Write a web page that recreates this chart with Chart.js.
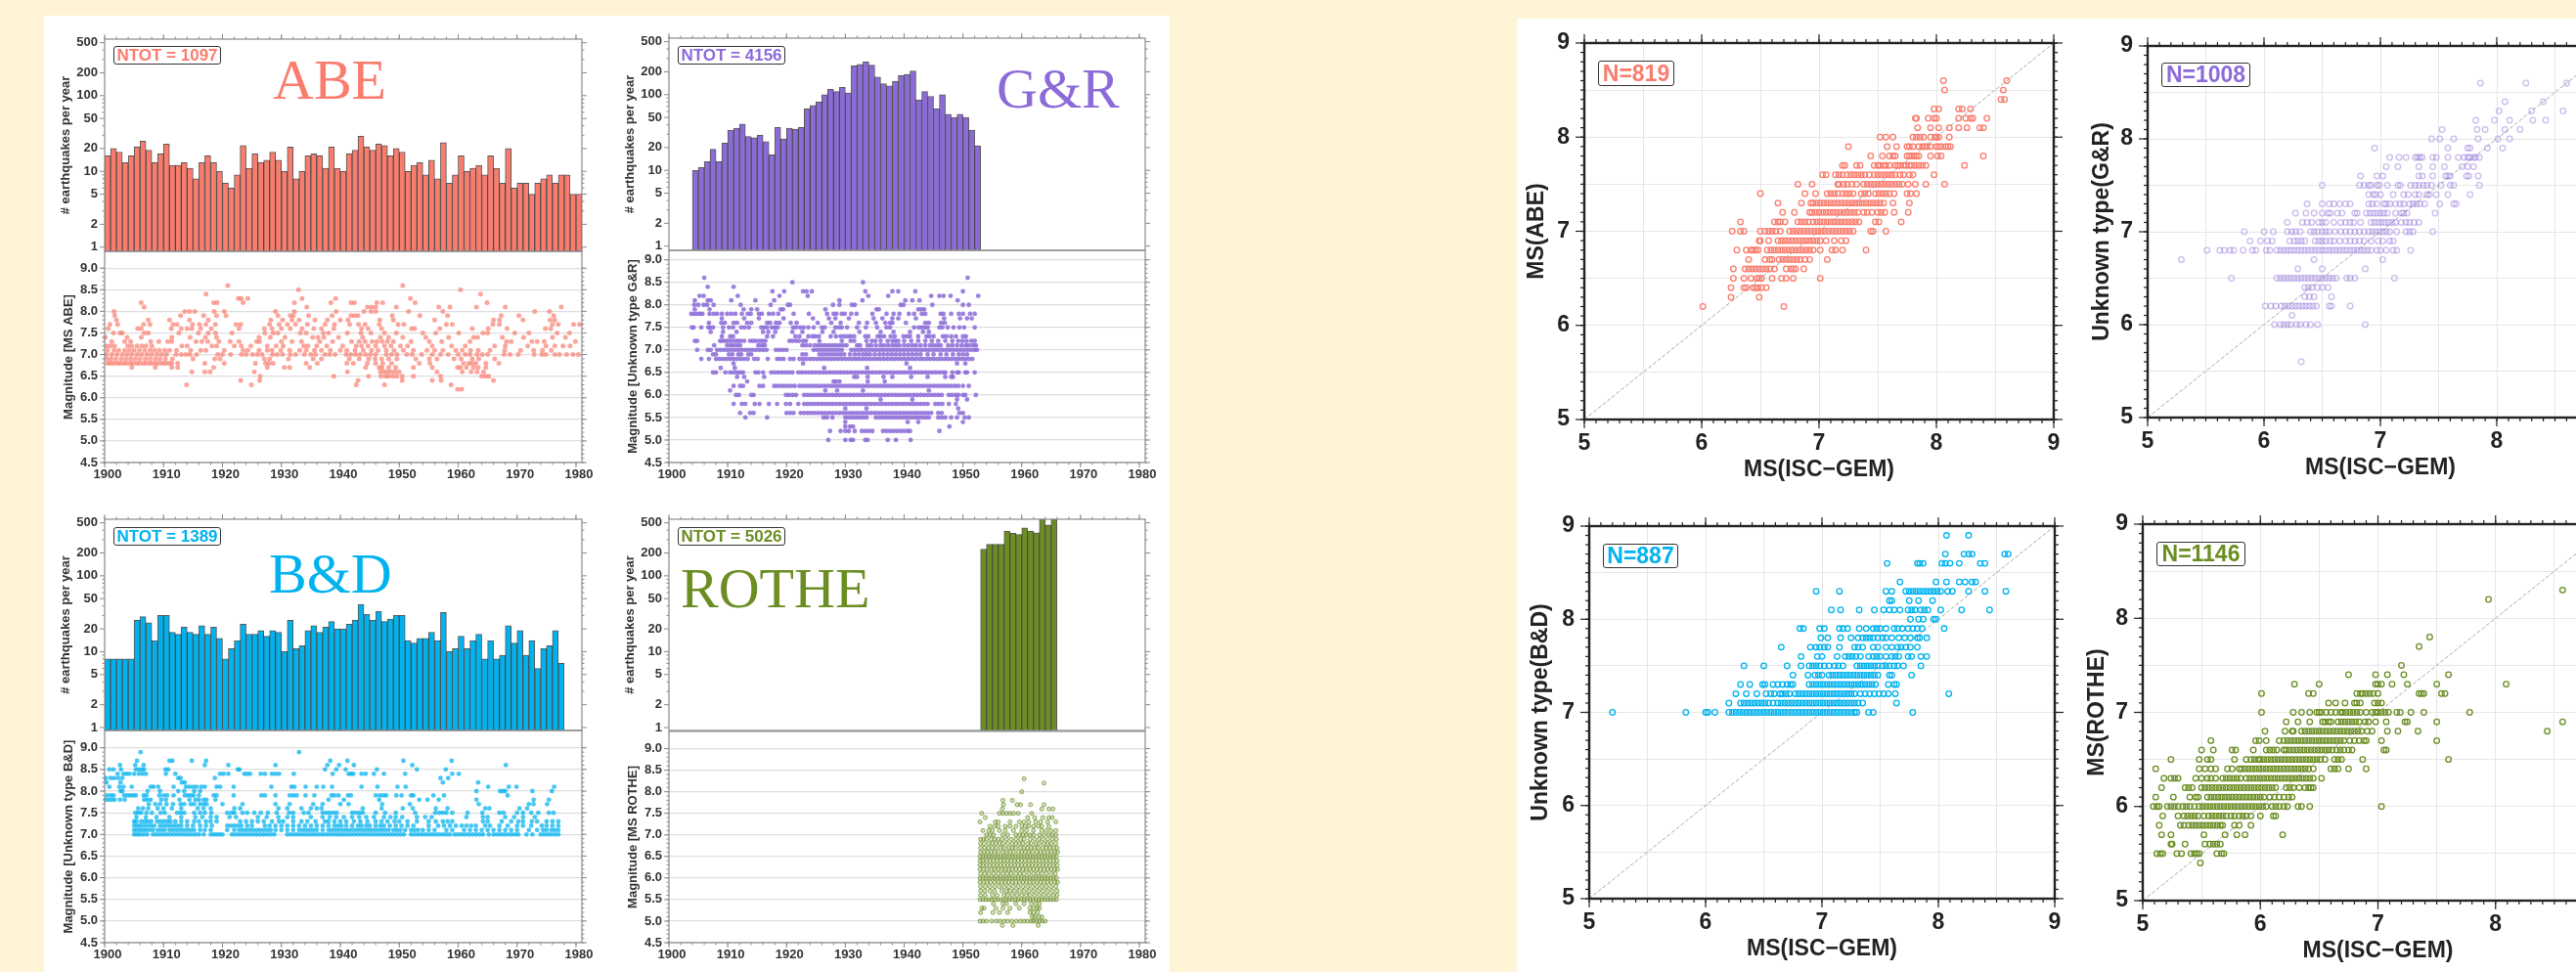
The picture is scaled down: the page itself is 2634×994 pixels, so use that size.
<!DOCTYPE html>
<html>
<head>
<meta charset="utf-8">
<script src="https://cdn.jsdelivr.net/npm/chart.js@4"></script>
<style>
html, body { margin: 0; padding: 0; }
#stage { position: relative; width: 2634px; height: 994px; overflow: hidden; background: #fff5d6; }
#stage canvas { position: absolute; }
.sheet { position: absolute; background: #fff; }
.tag { position: absolute; box-sizing: border-box; background: #fff; border: 1.5px solid #333; border-radius: 3px;
       display: flex; align-items: center; justify-content: center; font-family: "Liberation Sans"; white-space: nowrap; }
.big { position: absolute; font-family: "Liberation Serif"; font-size: 58px; line-height: 58px; white-space: nowrap; z-index: 3; }
</style>
</head>
<body>
<div id="stage">
  <div class="sheet" style="left:45px;top:16px;width:1151px;height:978px"></div>
  <div class="sheet" style="left:1551px;top:19px;width:1083px;height:975px"></div>
</div>
<script>
// yearly counts
const abeFirstYear = 1900;
const abeCounts = [16,20,18,13,16,21,25,19,13,17,23,12,12,13,11,8,13,16,13,10,7,6,9,22,11,17,13,14,18,14,10,21,8,10,16,17,16,11,21,11,10,17,19,29,21,19,23,22,16,20,18,10,12,13,9,14,8,24,7,9,16,10,11,12,9,16,11,7,20,6,7,7,5,7,8,9,7,9,9,5,5];
const grFirstYear = 1904;
const grCounts = [10,11,13,19,13,23,34,36,41,28,27,29,24,16,37,26,36,35,37,65,72,80,100,118,110,125,105,240,250,270,245,170,140,130,150,180,185,205,85,110,95,65,100,55,50,55,50,34,21];
const bdFirstYear = 1900;
const bdCounts = [8,8,8,8,8,26,29,24,14,30,30,18,17,21,18,17,22,17,21,15,8,11,14,23,17,17,19,16,19,18,10,26,11,12,19,22,18,21,25,20,20,23,26,42,31,26,34,25,27,30,30,14,13,15,15,18,14,33,10,11,16,11,14,17,8,14,8,9,22,13,19,9,14,6,11,12,19,7];
const rotheFirstYear = 1953;
const rotheCounts = [225,260,260,260,390,365,350,430,390,370,560,470,560];

// magnitude vs time: each row is [magnitude, years after 1900...]
const abeTimeRows = [
[8.6,20.9,50.6],[8.5,32.9,60.4],[8.4,17.2,63.8],
[8.3,22.7,23.2,24.3,33.5,39.2,51.9],
[8.2,6.2,18.5,19.1,23.5,32.2,38.4,41.8,42.4,46.2,47.2,52.7,64.9],
[8.1,6.7,34.3,44.6,45.3,46,49.5,56.7,58.6,63.1,68,77.5],
[8,1.6,13.6,14.4,15.3,18.6,20.3,29,32.2,39.3,44,45.2,46,51.6,57.4,73,75.5],
[7.9,1.7,12.9,16.8,19,20.6,29.4,31.5,32,34.6,38.6,41.8,42.4,43,48.8,53.5,58.2,67.3,70.3,76.2],
[7.8,2,7.4,11,14.4,17.6,28.2,30.2,31.8,33,35.7,37.8,40,41.3,46.7,49,56,66,67,71,75.6,76.4],
[7.7,0.9,2.2,6.6,7.7,11.6,12.3,14.9,16.1,17.2,18.8,22.3,23.1,28,29.6,31,32.4,34.4,37.4,39,41.6,43.1,44.2,46.6,49.8,50.8,58,59,65.9,67,76,77,79.6,80.6],
[7.6,0.6,5.6,6.2,11.3,13,14,14.8,16.3,18.1,22.8,27.1,28.4,30,31.5,33.5,35.5,36.8,38.9,43.6,44.7,47,52.1,52.6,56.9,62.4,65.1,68.3,74.8,75.7],
[7.5,1.5,2.6,3,6.7,7.4,12.6,15.9,17.6,18.8,21.6,27.2,28.6,29.4,33.2,34.2,37.1,38,41.2,43.5,45.2,47.5,49.5,54,56.2,60.1,64.2,65,69.6,72,76.8,78.9],
[7.4,0.1,3.8,6.2,11.4,14.5,17.1,19,26.2,28.1,30.6,35.3,36.2,37.2,39.7,43.8,46.8,48.2,50.6,54.5,58.4,62.6,63.3,67.5,71.1,76,78.2],
[7.3,1.2,3.4,4.4,7.8,9.2,10.7,11.4,15.5,16.5,17.5,19.4,21.3,22.8,25.8,26.3,30,31.8,33.4,36.5,38.7,41.9,43.2,44.2,45.4,46.2,47.1,48,49,52,55.1,57.2,62,68.2,69,72.5,73.4,74.6,79.9],
[7.2,0.3,1,1.7,3.9,4.6,5.5,6.3,7,8,13.1,14,18.2,19,22,23.2,24.8,27.6,29.1,30.3,33.8,34.5,36,37.7,40.4,42.7,43.6,44.7,46,47.5,48.6,50.2,51.4,55.6,58.9,61.2,66.2,68,71.8,74.9,76.4,77.8,79],
[7.1,0.5,1.6,2.4,3.4,4.2,5,5.9,6.8,7.7,8.5,9.3,10.2,11,12.2,14.6,16.3,17.2,20.3,23.5,24.3,26.2,27.6,28.4,29.9,31.4,33.1,34.2,35.6,36.8,38.3,40,41.1,42.5,43.9,45.3,46.4,47.8,49.1,50.7,52.4,54.7,56,57.4,59.6,60.7,62.1,63.4,65.4,67.9,70.6,72.8,74.3,75.8],
[7,0.3,1.2,2.1,3,3.8,4.6,5.5,6.3,7.2,8,8.9,9.7,10.5,12.1,13,13.8,14.5,15.6,19.2,20,21.4,23.2,24,25.1,25.9,26.7,28.5,29.3,30.2,31.5,32.4,33.9,35,35.8,37.4,38.2,39.1,41,41.8,42.6,43.4,44.3,45.1,46,47.8,48.7,49.6,51.3,52.2,53.8,55.6,57,58.3,60,61.2,62,63.2,64.1,65,67.8,68.8,70.2,72.9,74.2,74.9,76.4,77.2,78.4,79.5,80.4],
[6.9,0.4,1.1,1.9,2.8,3.6,4.4,5.2,6,6.9,7.7,8.6,9.4,10.3,11.5,15,18.7,19.6,27.1,28,31.2,35.4,36.8,41.5,43.2,44.8,45.9,47,48.2,49.6,52.8,55.1,56.4,59.3,60.5,62.4,63.5,66.2],
[6.8,0.5,1,1.5,2.1,2.6,3.2,3.7,4.3,4.8,5.4,5.9,6.5,7,7.6,8.1,8.7,9.2,9.8,10.3,10.9,11.4,12.4,17,20.3,25.6,27.3,27.9,28.6,34.2,36.1,41.1,42.2,44.6,46,47.2,48.7,53.4,55.2,60.9,61.8,62.3,63,64.7,66.9],
[6.7,4.6,8.6,11.4,12.4,18.5,27.6,30.5,31.4,34.8,44.3,46.6,47.1,48.2,49.4,52.4,55.6,59.9,60.4,61.4,62.6,63.4,64.7],
[6.6,14.8,17,17.9,25.4,41.2,46.8,47.4,48,48.6,49.3,50,56.4,60.7,62.2,63.2,64.3],
[6.5,26.4,38.9,44.8,46.9,47.7,48.2,48.9,49.6,50.5,52.4,57,64,64.6,65.2],
[6.4,23.1,26.3,43,50.5,55.6,57.1,66],[6.3,13.9,24.9,42.7,47.5,58.8],[6.2,59.9,60.6]
];
const grTimeRows = [
[8.6,6,50.8],[8.5,21,33],[8.4,6.6,11],
[8.3,17.6,19.6,22.8,23.4,24.3,33.4,38,39,41.9,50],
[8.2,5.2,5.9,11.7,18.8,23.6,33.9,37.3,44.6,46,46.7,47.9,52.6],
[8.1,4.4,6.6,7.1,10.6,14.7,17.9,29,32.9,40.2,41.4,42.6,49.1],
[8,4.3,5,5.9,6.5,7.6,12.2,17.3,20.2,20.6,27.9,29,31.1,31.6,39.4,39.9,44.8,50,51],
[7.9,4.4,6.9,12.7,14,15,19,19.4,26.6,35.3,35.7,42.4,42.9,43.4],
[7.8,3.8,4.3,4.8,5.3,5.7,6.9,7.6,8.2,9,9.9,10.6,11.3,12.4,13.4,13.9,15.3,15.8,17,17.7,18.6,21.2,23.8,26.9,28,28.5,29.4,29.9,31,31.9,34.6,37,38.2,39.2,40.8,41.7,43,43.6,46.2,46.7,48,49.3,50,51.2,52],
[7.7,9,12.8,15.3,19.5,24.5,27.2,28.3,30.6,34.8,36.3,38,39,42,46.8,49.5,50.7,51.5],
[7.6,6.8,8.9,9.5,11,11.6,13.3,14,16.7,17.2,18.2,18.8,20.7,21.7,25.3,27.6,29.2,32.3,33.7,35.2,36.8,37.6,38,40.3,43.6,44.2,46.3,46.9],
[7.5,3.9,4.2,5.5,6.7,7,7.5,9.2,10.2,10.9,12.3,12.9,13.6,15.7,16.2,16.7,17.5,18,18.5,21.1,21.6,22.3,22.9,23.7,24.6,26,26.5,28.3,28.9,29.4,30.3,32,33.5,35.4,37,37.6,41.7,42.5,43,43.5,44,46,46.5,47.4,48.4,49.4,50.2,52],
[7.4,7.1,9.2,11.5,16,16.9,18.1,21,22.7,26.1,28,32.4,36,38.2,41,43.2,44.2],
[7.3,9,10.4,10.9,16.7,17.7,21.5,22.2,23.7,24.4,24.9,25.5,27.5,28.4,29.2,29.8,30.4,30.9,31.5,33.4,33.9,35.5,36,36.6,37.7,38.4,39.9,40.5,41,42.4,43.8,44.3,45,46.6,47.2,48,48.8,50,50.5],
[7.2,4.4,4.8,8.7,9.1,9.6,10.1,10.6,11.2,11.7,12.2,12.8,13.8,14.3,14.8,15.4,15.9,16.4,20.5,21,21.6,22.1,22.8,23.3,25.6,29.4,30.9,31.5,33.6,34.5,35.1,36,37.2,38,38.5,39,40,41.2,42.4,43.6,44.7,45.8,47,48.2,49.2,49.9,50.6,51.4,52],
[7.1,7.7,9.9,10.5,11,11.6,12.1,15.2,15.8,16.3,22.7,23.3,24,24.8,25.4,26,26.6,27.2,27.8,28.4,29,29.6,30.2,32,32.5,33.8,34.4,35.2,36,36.6,37.3,38,38.6,39.2,40,40.7,41.4,42,42.8,43.6,44.4,45,45.6,46.2,47.5,48.2,49,49.8,50.5,51,51.7,52.2],
[7,4.8,6.6,7.1,8.2,8.8,9.4,10,10.6,11.2,11.8,12.4,13,13.6,14.2,14.8,15.4,16,16.6,18.2,18.8,19.4,20,24.6,25.2,25.8,26.4,27,27.6,28.2,28.8,29.4,31,31.6,32.2,32.8,33.4,34,34.6,35.2,35.8,36.4,37,37.6,38.2,38.8,39.4,40,40.6,41.2,41.8,42.4,43,43.6,44.2,44.8,45.4,46,46.6,47.2,47.8,48.4,49,49.6,50.2,50.8,51.4,52,52.4],
[6.9,7.5,8,10.2,10.8,11.8,12.3,13.5,14,22.7,23.3,25.6,26.2,26.8,27.4,28,28.6,29.2,29.8,30.8,31.6,32.3,33,33.6,34.2,35,35.8,36.5,37.2,37.9,38.6,39.3,40,40.7,41.4,42.1,42.8,44,45,46.2,47.2,48.3,49.3,50,50.7],
[6.8,5.5,6.8,8,8.6,9.2,9.8,10.4,11,11.6,12.2,12.8,13.4,14.5,15.1,16.8,18.4,18.9,19.5,20.6,21.2,22.2,22.8,23.4,24,24.6,25.2,25.8,26.4,27,27.6,28.2,28.8,29.4,30,30.6,31.2,31.8,32.4,33,33.6,34.2,34.8,35.4,36,36.6,37.2,37.8,38.4,39,39.6,40.2,40.8,41.4,42,42.6,43.2,43.8,44.4,45,45.6,46.2,46.8,47.4,48,48.6,49.2,49.8,50.4,51,51.6],
[6.7,11,22.8,40.4,49,50.4],[6.6,8.8,11.2,26.4,33.7,41],
[6.5,7.5,8,9.6,10.4,11,11.6,12.1,12.6,14.7,15.2,16,17.4,18,18.6,19.2,19.8,20.4,21,22,22.6,23.2,23.8,24.4,25,25.6,26.2,26.8,27.4,28,28.6,29.2,29.8,30.4,31,31.6,32.2,32.8,33.4,34,34.6,35.2,35.8,36.4,37,37.6,38.2,38.8,39.4,40,40.6,41.2,41.8,42.4,43,43.6,44.2,44.8,45.4,46,46.6,47,48.2,49,49.3,50.4,50.7,52],
[6.4,11.6,12.8,16.2,31.5,32,33.8,36.5,38,41.2,44,47,48,48.3],
[6.3,13.3,28,28.4,29,33.8,36.7],
[6.2,11,12.1,12.6,15.4,16,17.9,18.4,19,19.6,20.2,20.8,21.4,22.2,22.8,23.4,24,24.6,25.2,25.8,26.4,27,27.6,28.2,28.8,29.4,30,30.6,31.2,31.8,32.4,33,33.6,34.2,34.8,35.4,36,36.6,37.2,37.8,38.4,39,39.6,40.2,40.8,41.4,42,42.6,43.2,43.8,44.4,45,45.6,46.2,46.8,47.4,48,48.6,49.2,50,51],
[6.1,10.4,26.6,28.6,33,44.2],
[6,11.4,11.9,14,14.4,19.9,20.4,21,21.6,23,23.6,24.2,24.8,25.4,26,26.6,27.2,27.8,28.4,29,29.6,30.2,30.8,31.4,32,32.6,33.2,33.8,34.4,35,35.6,36.2,36.8,37.4,38,38.6,39.2,39.8,40.4,41,41.6,42.2,42.8,43.4,44,44.6,45.2,45.8,46.4,47.6,48.2,48.8,49.2,50,50.4,52.2],
[5.9,36,41.4,49,50.7],
[5.8,11,12.4,13,14.6,15.4,17,18.4,19.9,20.6,22,23,23.6,24.2,24.8,25.4,26,26.6,27.2,27.8,28.4,29,29.6,30.2,30.8,31.4,32,32.6,33.2,33.8,34.4,35,35.6,36.2,36.8,37.4,38,38.6,39.2,39.8,40.4,41,41.6,42.2,42.8,43.4,44,45.3,45.9,46.5,47.6,48.8],
[5.7,30,33.6,49.2],
[5.6,12.1,13.8,14.4,20,20.6,21.2,22.4,23,23.6,24.2,24.8,25.4,26,26.6,27.2,27.8,28.4,29,29.6,30.2,30.8,31.4,32,32.6,33.2,33.8,34.4,35,35.6,36.2,36.8,37.4,38,38.6,39.2,39.8,40.4,41,41.6,42.2,42.8,43.4,44,44.6,45.8,46.4,49.4,50],
[5.5,13,16.7,26.3,26.9,27.8,30,30.6,31.2,31.8,32.4,33,33.6,35.2,35.8,36.4,37,37.6,38.2,38.8,39.4,40,40.6,41.2,41.8,42.4,43,43.6,44.2,45.8,46.4,47,48,49,50.3,51],
[5.4,30,40.6,42.4,50],[5.3,30,30.8,31.3,47.7],
[5.2,27.4,29.2,30,30.6,31.6,32.8,33.4,34,34.6,36.4,37,37.6,38.2,38.8,39.4,40,40.6,41,46],
[5,27.1,30,30.9,31.3,33.4,33.8,37.2,38.6,41.1]
];
const bdTimeRows = [
[8.9,6.1,33],[8.7,5.5,11,11.5,14.8,17.2,38.3,41.2,50.7,58.9],
[8.6,2.6,5.2,6.6,17,21,29,37.8,39.8,42.3,52.2,68.1],
[8.5,0.8,1.5,2.8,5.3,5.8,6.3,6.7,10.3,10.8,22.6,22.9,37.4,39.3,40.9,46.2,53,57.9],
[8.4,2.2,3.2,3.7,4.2,5,5.8,6.4,7,10.4,12,19.6,20.2,21,23.7,24.2,24.7,26.5,27.2,28.4,29,29.6,32.1,38.7,41.4,41.8,42.2,43.6,44.3,45.7,47.4,51,60.1,59],
[8.3,0.2,1,1.6,2.3,3,12.5,12.9,18.7,57,58.3],[8.2,0.3,2.7,13.1,13.6,57.4,63.4],
[8.1,0.8,2.5,3.2,4.6,7.8,8.3,9.1,11.7,13.8,14.4,15,15.6,16.4,17,19,19.6,21.9,28.3,31.7,32.2,34.1,36,37.1,38.6,43.6,46.3,49.7,51.1,65.1,68.6,69.9,76.3],
[8,2.7,3,7.3,9.4,12.5,13.5,15.2,16.2,63.1,67.1,67.6,68,72.6,75.9],
[7.9,0.4,1,1.5,3.3,3.8,4.3,4.8,5.3,6.6,7.1,9.3,10,10.6,11.7,13.6,14.1,14.6,15.1,16,18.5,19,21.9,26.6,27.2,29,31.4,32,32.6,34.1,35.6,38.5,39,39.7,41.3,41.8,46,46.7,47.3,47.8,49.5,50.4,52,52.4,55.8,57.6,68.4],
[7.8,0.2,0.7,1.2,1.7,2.6,3.4,6.7,7.2,7.8,9.6,10.4,12.7,14.4,15.4,16,16.8,17.3,18.8,38,40.6,46.6,53.4,54.8,56.7,63.1,72.8,75.4],
[7.7,7.5,8.6,9.4,10.5,11.6,12.9,13.5,14.6,15.2,16.2,16.8,17.3,20,23.4,29,31.4,35.4,37,40,41.4,47.1,51.8,63.5,72,72.8,75.1],
[7.6,5.7,6.5,7.4,9,10,11.4,13,15.8,16.8,18,22,23,29.5,31,33.4,35,36,36.8,43.8,47,50.6,52.3,56.2,58.2,64.6,65.3,70.4,71.7],
[7.5,5.2,5.7,6.2,7.1,8,9.5,10.2,12.3,12.9,13.5,15.2,16.2,17,18.1,20.8,21.5,22,23.4,24.2,25.4,26.5,27.7,29.2,31.3,32,33.8,34.6,37,37.6,38.2,38.8,39.4,42,42.6,43.2,43.8,46,47.6,49.4,52.7,56.1,56.8,57.4,58,59,61.6,64.1,67,67.7,70,71,72.4,73.6,75.4,76.2],
[7.4,5.4,7,8.8,11,13,15.4,16.6,18,19,21.2,22.3,26,27.5,29.5,31,32,35,37,38.2,39.3,40.6,42,43.2,44.4,45.7,47.4,48.5,49.4,50.5,53,54.4,55.5,61.4,64.2,65,68,69.5,71,73],
[7.3,5,5.4,6.2,6.8,7.3,7.9,8.9,9.5,10.1,10.7,11.2,12,13,14,15.2,16,17.2,18,19,23,24,25,26,27,28.4,29.6,30.3,32,33.4,34.4,35.8,37.4,38,39,40,41,42.3,43.4,44.6,46,47,48,49.2,50,51.4,53,55,56.2,57.4,58.2,59,64.2,65,67.4,69,70.2,71,72.5,73.4,75,76,77],
[7.2,5,5.5,6,6.6,7.2,7.8,8.4,9.4,10,10.6,11.2,11.8,12.4,13,14,15,16.2,17.2,18.2,20.8,21.4,22,22.6,23.2,24.2,25,27.2,28,29,30,31,32,33,34,35,36,37,38,39,39.6,40.2,41,42,43,43.6,44.4,45,46,46.8,47.4,48.4,49.4,50.4,51.4,52.4,55,56.6,57.6,58.6,59.6,60.6,61.4,62.2,63,64.6,65.4,67,68.4,70,71,72.4,74.2,75,76,77],
[7.1,5,5.5,6,6.5,7,7.6,8.2,9,9.6,10.2,11,11.6,12.2,12.8,13.4,14,14.6,15.2,16.2,17,18,20.8,22,22.8,23.4,24,24.6,25.2,25.8,26.4,27,27.6,28.2,29,30,31,32,33,33.6,34.2,34.8,35.4,36,37,38,38.6,39.2,39.8,40.4,41,41.6,42.2,42.8,43.4,44,44.6,45.2,45.8,46.4,47,47.6,48.2,49,49.6,50.2,51,52,52.6,53.2,54,55,56,58,59,61,62,63,64,65,66,67,68,69,70,72,73.4,74.4,75,75.8,76.4,77],
[7,5,5.5,6,6.6,7.2,8.2,8.8,9.4,10,10.6,11.2,11.8,12.4,13,13.6,14.2,14.8,15.4,16,16.8,18,18.5,19,19.5,20,21.6,22.2,22.8,23.4,24,24.6,25.2,25.8,26.4,27,27.6,28.2,28.8,31,31.6,32.2,32.8,33.4,34,34.6,35.2,35.8,36.4,37,37.6,38.2,38.8,39.4,40,40.6,41.2,41.8,42.4,43,43.6,44.2,44.8,45.4,46,46.6,47.2,47.8,48.4,49,49.6,50.2,50.8,52,52.6,53.2,53.8,54.4,55,55.6,56.2,56.8,57.4,58,58.6,59.4,60,60.6,61.2,61.8,62.4,63,63.6,64.2,65.2,66,66.6,67.2,67.8,68.4,69,69.6,70.2,71.6,72.6,74,74.6,75.2,75.8,76.4,77]
];
const rotheTimeRows = [
[8.3,60.4],[8.2,63.8],[8,60],[7.8,56.8,58.4],[7.7,56.9,59.2,59.8,61.5,63.8],
[7.6,56.7,63.4,64.6,65.3],
[7.5,53.2,56.2,56.8,57.4,58,58.6,59.4,61.7],
[7.4,53.8,61,62.2,63.6,64.6,65.2],
[7.3,52.9,55.5,56,58,59.6,60.4,61.2,62.4,63.2,64.4,65.8],
[7.2,54.6,55.4,56,57.2,58,59,60,60.6,61.2,62,62.8,63.4,64.6],
[7.1,53.4,54.4,55,56.2,57.2,58.6,60,60.8,62,63.4,64.2,65,65.8],
[7,54,54.6,55.2,56.8,57.6,59,59.6,60.2,60.8,61.4,62,63,63.8,64.6,65.2,65.8],
[6.9,53,53.5,54,54.8,55.4,56,56.6,57.4,58.2,59,59.8,60.4,61.4,62.2,63,63.6,64.4,65.2,65.9],
[6.8,53,53.6,54.4,55,55.6,56.2,56.8,57.6,58.4,59,59.6,60.2,61,61.6,62.4,63,63.8,64.4,65,65.8],
[6.7,53,53.7,54.3,55,55.6,56.4,57,57.8,58.4,59,59.8,60.4,61,61.6,62.2,62.8,63.6,64.2,64.8,65.4,66],
[6.6,53,53.6,54.2,54.8,55.4,56,56.8,57.4,58,58.6,59.4,60,60.6,61.2,61.8,62.6,63.2,63.8,64.4,65,65.6,66.1],
[6.5,52.9,53.4,53.9,54.4,54.9,55.4,55.9,56.4,56.9,57.4,57.9,58.4,58.9,59.4,59.9,60.4,60.9,61.4,61.9,62.4,62.9,63.4,63.9,64.4,64.9,65.4,65.9],
[6.4,52.9,53.4,54,54.6,55.2,55.8,56.4,57,57.6,58.2,58.8,59.4,60,60.6,61.2,61.8,62.4,63,63.6,64.2,64.8,65.4,66],
[6.3,52.9,53.4,54,54.6,55.2,55.8,56.4,57,57.6,58.2,58.8,59.4,60,60.6,61.2,61.8,62.4,63,63.6,64.2,64.8,65.4,66],
[6.2,52.9,53.5,54.1,54.8,55.4,56,56.6,57.2,57.8,58.4,59,59.6,60.2,60.8,61.4,62,62.6,63.2,63.8,64.4,65,65.6,66.1],
[6.1,53,53.7,54.4,55.2,56,56.8,57.5,58.2,59,59.7,60.4,61.2,62,62.7,63.4,64.2,65,65.7],
[6,52.9,53.4,53.9,54.4,54.9,55.4,55.9,56.4,56.9,57.4,57.9,58.4,58.9,59.4,59.9,60.4,60.9,61.4,61.9,62.4,62.9,63.4,63.9,64.4,64.9,65.4,65.9],
[5.9,52.9,53.5,54.1,54.7,55.4,56,56.6,57.2,57.8,58.4,59,59.6,60.2,60.8,61.4,62,62.6,63.2,63.8,64.4,65,65.6,66.1],
[5.8,53,53.8,54.6,55.4,56.2,57,57.8,58.6,59.4,60.2,61,61.8,62.6,63.4,64.2,65,65.8],
[5.7,53,53.7,54.6,55.4,56.6,57.4,58,58.8,59.6,60.4,61.2,62,62.8,63.6,64.4,65.2,66],
[5.6,53,53.8,55,55.8,57,57.6,58.4,59.2,60,60.8,61.4,62.2,63,63.8,64.6,65.4,66],
[5.5,52.9,53.4,53.9,54.4,54.9,55.4,55.9,56.4,56.9,57.4,57.9,58.4,58.9,59.4,59.9,60.4,60.9,61.4,61.9,62.4,62.9,63.4,63.9,64.4,64.9,65.4,65.9],
[5.4,55.2,56.8,57.4,59,60.4,61.6,62.4,63],[5.3,53.2,53.6,55.6,56.8,58,59.6,61.4,62,62.6,63],
[5.2,53,55.1,56.2,57.6,61.4,62,62.7],[5.1,61.8,62.2,62.9,63.4],
[5,52.9,53.4,54,54.9,55.7,56.3,57,57.6,58.3,59.1,59.8,60.4,61,61.6,62,62.5,63,63.5,64],
[4.9,56.7,58.5,62.8]
];

// magnitude vs ISC-GEM: each row is [catalogue magnitude, ISC-GEM magnitudes...]
const abeCompareRows = [
[8.6,8.06,8.6],[8.5,8.07,8.57],[8.4,8.55,8.58],[8.3,7.98,8.02,8.19,8.22,8.29],
[8.2,7.82,7.83,7.93,7.98,8,8.19,8.25,8.29,8.31,8.43],
[8.1,7.84,7.95,8.02,8.11,8.19,8.26,8.37,8.4],
[8,7.52,7.57,7.63,7.8,7.83,7.86,7.89,7.95,7.99,8,8.02,8.11],
[7.9,7.25,7.58,7.66,7.75,7.77,7.8,7.85,7.88,7.9,7.92,7.95,8,8.02,8.04,8.08,8.1,8.12],
[7.8,7.44,7.54,7.6,7.63,7.65,7.75,7.77,7.79,7.81,7.83,7.85,7.95,8.01,8.04,8.4],
[7.7,7.2,7.22,7.32,7.35,7.47,7.5,7.52,7.55,7.57,7.6,7.65,7.67,7.69,7.72,7.74,7.77,7.79,7.82,7.85,7.88,7.91,8.24],
[7.6,7.03,7.06,7.14,7.17,7.2,7.24,7.27,7.3,7.33,7.36,7.39,7.43,7.47,7.5,7.53,7.56,7.59,7.62,7.65,7.69,7.72,7.77,7.8,7.98],
[7.5,6.82,6.94,7.16,7.17,7.21,7.24,7.28,7.32,7.38,7.41,7.44,7.47,7.5,7.53,7.56,7.59,7.62,7.65,7.68,7.71,7.76,7.82,7.91,8.07],
[7.4,6.5,6.88,6.97,7.07,7.1,7.13,7.16,7.2,7.23,7.26,7.29,7.36,7.39,7.42,7.48,7.51,7.54,7.57,7.6,7.64,7.75,7.78,7.83],
[7.3,6.65,6.85,6.93,6.95,6.98,7.01,7.04,7.07,7.1,7.13,7.16,7.19,7.22,7.25,7.28,7.31,7.34,7.37,7.4,7.43,7.46,7.49,7.52,7.55,7.63,7.77],
[7.2,6.69,6.79,6.92,6.94,6.97,7,7.03,7.06,7.09,7.12,7.15,7.18,7.21,7.24,7.27,7.3,7.33,7.38,7.41,7.45,7.5,7.53,7.56,7.64,7.76],
[7.1,6.33,6.62,6.65,6.67,6.71,6.82,6.85,6.88,6.91,6.95,6.98,7.01,7.04,7.07,7.1,7.13,7.16,7.19,7.22,7.25,7.28,7.31,7.34,7.48,7.51,7.7],
[7,6.26,6.33,6.36,6.5,6.54,6.57,6.6,6.63,6.67,6.75,6.78,6.81,6.84,6.87,6.9,6.93,6.96,6.99,7.02,7.05,7.08,7.11,7.14,7.17,7.2,7.23,7.26,7.29,7.44,7.46,7.57],
[6.9,6.49,6.5,6.57,6.65,6.68,6.71,6.74,6.77,6.8,6.83,6.86,6.89,6.92,6.95,6.98,7.01,7.06,7.13,7.19,7.23],
[6.8,6.3,6.38,6.42,6.44,6.46,6.48,6.56,6.59,6.62,6.65,6.68,6.71,6.74,6.77,6.8,6.83,6.86,6.89,6.92,6.95,7.01,7.11,7.14,7.2,7.4],
[6.7,6.4,6.54,6.58,6.6,6.66,6.69,6.72,6.75,6.78,6.81,6.84,6.88,6.92,7.07],
[6.6,6.27,6.37,6.4,6.43,6.46,6.49,6.52,6.55,6.58,6.62,6.72,6.76,6.78,6.8,6.87],
[6.5,6.27,6.36,6.42,6.47,6.49,6.51,6.6,6.68,6.72,6.78,7.01],
[6.4,6.25,6.36,6.38,6.44,6.46,6.48,6.51,6.55],[6.3,6.25,6.49],[6.2,6.01,6.7]
];
const grCompareRows = [
[8.6,7.86,8.25,8.6],[8.4,8.07,8.4],[8.3,8.02,8.3,8.57],[8.2,7.82,7.98,8.11,8.31,8.42],
[8.1,7.53,7.83,7.9,8.07,8.2],[8,7.44,7.51,7.63,7.84,8.01,8.11],[7.9,6.95,7.58,7.75,7.77,7.92,8.05],
[7.8,7.08,7.16,7.22,7.3,7.32,7.34,7.36,7.45,7.48,7.58,7.67,7.72,7.75,7.77,7.8,7.82,7.85],
[7.7,7.05,7.15,7.33,7.45,7.55,7.7,7.75,7.8],[7.6,6.83,6.97,7.02,7.33,7.36,7.45,7.56,7.58,7.6,7.74,7.76,7.84],
[7.5,6.5,6.82,6.86,6.9,6.92,6.97,6.99,7.06,7.15,7.17,7.26,7.3,7.33,7.37,7.4,7.44,7.52,7.6,7.63,7.85],
[7.4,6.9,6.94,6.96,7,7.11,7.2,7.24,7.3,7.33,7.4,7.42,7.48,7.58,7.77],
[7.3,6.37,6.5,6.56,6.6,6.65,6.7,6.74,6.9,6.93,6.97,7.03,7.05,7.08,7.13,7.17,7.2,7.25,7.28,7.31,7.34,7.38,7.51,7.63,7.65],
[7.2,6.27,6.36,6.43,6.5,6.55,6.57,6.63,6.67,6.78,6.8,6.88,6.91,6.94,6.97,7,7.03,7.06,7.13,7.18,7.2,7.23,7.47],
[7.1,6.2,6.33,6.37,6.41,6.47,6.5,6.53,6.6,6.66,6.7,6.74,6.77,6.83,6.92,6.95,6.98,7.01,7.04,7.07,7.1,7.13,7.18,7.22,7.25,7.29,7.33],
[7,5.83,6,6.08,6.2,6.24,6.27,6.31,6.4,6.43,6.46,6.5,6.53,6.56,6.61,6.66,6.7,6.74,6.78,6.82,6.86,6.9,6.93,6.96,6.99,7.02,7.05,7.08,7.14,7.22,7.25,7.28,7.45],
[6.9,5.88,5.97,6.03,6.07,6.22,6.26,6.29,6.32,6.35,6.44,6.47,6.5,6.53,6.57,6.6,6.65,6.7,6.74,6.78,6.82,6.86,6.92,6.98,7.02,7.08,7.11],
[6.8,5.51,5.62,5.66,5.71,5.74,5.82,5.9,5.93,6.02,6.05,6.11,6.14,6.17,6.2,6.23,6.26,6.29,6.32,6.35,6.38,6.41,6.44,6.47,6.5,6.53,6.56,6.59,6.62,6.65,6.68,6.71,6.74,6.77,6.8,6.83,6.86,6.89,6.92,6.97,7,7.05,7.11,7.14,7.26],
[6.7,5.29,6.43,7.02],[6.6,6.29,6.5,6.87],
[6.5,5.72,6.11,6.14,6.17,6.2,6.23,6.26,6.29,6.32,6.35,6.38,6.41,6.44,6.47,6.5,6.53,6.56,6.59,6.62,6.71,6.74,6.78,7.12],
[6.4,6.35,6.38,6.41,6.46,6.5,6.55],[6.3,6.35,6.39,6.43,6.58],
[6.2,6.01,6.06,6.1,6.15,6.18,6.21,6.24,6.27,6.3,6.33,6.36,6.39,6.42,6.45,6.56,6.58,6.74],
[6.1,6.24],[6,6.09,6.14,6.17,6.2,6.23,6.28,6.31,6.36,6.4,6.46,6.87],[5.6,6.32]
];
const bdCompareRows = [
[8.9,8.07,8.26],[8.7,8.06,8.22,8.26,8.29,8.57,8.6],
[8.6,7.56,7.82,7.84,7.87,8.03,8.06,8.1,8.18,8.36,8.4],
[8.4,7.67,7.98,8.07,8.18,8.23,8.29,8.32],
[8.3,6.95,7.15,7.55,7.6,7.72,7.75,7.78,7.81,7.84,7.87,7.9,7.93,7.96,7.99,8.02,8.08,8.12,8.26,8.4,8.58],
[8.2,7.58,7.6,7.75,7.83,7.95],[8.1,7.08,7.16,7.32,7.45,7.53,7.58,7.62,7.67,7.74,7.77,7.8,7.85,7.88,7.91,8.02,8.2,8.44],
[8,7.76,7.83,7.87,7.96,7.98],
[7.9,6.81,6.84,6.98,7.02,7.15,7.18,7.22,7.32,7.38,7.44,7.47,7.5,7.55,7.62,7.65,7.69,7.74,7.78,7.82,7.86,8.05],
[7.8,6.99,7.05,7.16,7.25,7.31,7.35,7.38,7.41,7.44,7.48,7.52,7.55,7.6,7.66,7.71,7.76,7.82,7.84,7.9],
[7.7,6.65,6.9,6.95,6.98,7.02,7.05,7.15,7.28,7.31,7.35,7.44,7.48,7.55,7.6,7.65,7.68,7.72,7.76,7.82],
[7.6,6.82,6.96,7,7.13,7.2,7.23,7.26,7.29,7.33,7.4,7.44,7.47,7.5,7.55,7.6,7.63,7.66,7.74,7.77,7.85,7.9],
[7.5,6.33,6.5,6.7,6.82,6.89,6.92,6.95,6.98,7.02,7.06,7.11,7.14,7.18,7.3,7.33,7.36,7.39,7.42,7.45,7.48,7.52,7.55,7.58,7.62,7.65,7.7,7.85],
[7.4,6.75,6.88,6.94,6.97,7,7.06,7.09,7.12,7.15,7.18,7.21,7.24,7.27,7.3,7.33,7.36,7.39,7.42,7.45,7.48,7.58,7.6,7.77],
[7.3,6.3,6.38,6.49,6.51,6.58,6.62,6.66,6.7,6.73,6.75,6.89,6.92,6.95,6.98,7.01,7.04,7.07,7.1,7.13,7.16,7.19,7.22,7.25,7.28,7.31,7.34,7.37,7.4,7.43,7.46,7.57,7.62,7.64],
[7.2,6.26,6.35,6.44,6.52,6.56,6.59,6.64,6.66,6.69,6.72,6.77,6.8,6.83,6.86,6.89,6.92,6.95,6.98,7.01,7.04,7.07,7.1,7.13,7.16,7.19,7.22,7.25,7.28,7.33,7.37,7.41,7.45,7.49,7.53,7.57,7.63,8.09],
[7.1,6.2,6.3,6.33,6.36,6.39,6.42,6.45,6.48,6.51,6.54,6.58,6.62,6.65,6.68,6.71,6.74,6.77,6.8,6.83,6.86,6.89,6.92,6.95,6.98,7.01,7.04,7.07,7.1,7.13,7.16,7.19,7.22,7.25,7.28,7.31,7.35,7.64],
[7,5.2,5.83,6,6.02,6.08,6.2,6.23,6.26,6.29,6.32,6.35,6.38,6.41,6.44,6.47,6.5,6.53,6.56,6.59,6.62,6.65,6.68,6.71,6.74,6.77,6.8,6.83,6.86,6.89,6.92,6.95,6.98,7.01,7.04,7.07,7.1,7.13,7.16,7.19,7.22,7.25,7.28,7.3,7.4,7.44,7.78]
];
const rotheCompareRows = [
[8.3,8.57],[8.2,7.94],[7.8,7.44],[7.7,7.35],[7.5,7.2],[7.4,6.75,6.98,7.08,7.22,7.6],
[7.3,6.29,6.5,6.98,7,7.03,7.12,7.25,7.5,8.09],
[7.2,6.01,6.41,6.45,6.82,6.85,6.87,6.9,6.93,6.96,7,7.35,7.37,7.39,7.54,7.57],
[7.1,6.58,6.64,6.72,6.8,6.82,6.85,6.97,7,7.03],
[7,6.01,6.28,6.35,6.42,6.48,6.5,6.52,6.56,6.6,6.64,6.68,6.7,6.73,6.76,6.79,6.82,6.85,6.9,6.95,6.98,7,7.03,7.06,7.09,7.16,7.19,7.28,7.39,7.78],
[6.9,6.22,6.32,6.42,6.53,6.55,6.58,6.6,6.66,6.69,6.72,6.75,6.78,6.81,6.84,6.89,6.92,6.98,7.07,7.23,7.25,7.5,8.57],
[6.8,6.04,6.21,6.27,6.28,6.35,6.38,6.41,6.44,6.47,6.5,6.53,6.56,6.59,6.62,6.65,6.68,6.71,6.74,6.77,6.8,6.83,6.86,6.91,6.95,7.08,7.17,7.34,8.44],
[6.7,5.58,5.96,5.99,6.05,6.16,6.2,6.23,6.26,6.29,6.32,6.35,6.38,6.41,6.44,6.47,6.5,6.53,6.56,6.59,6.62,6.65,6.68,6.71,6.76,6.8,6.84,6.88,6.9,7.03,7.5],
[6.6,5.5,5.6,5.76,5.79,5.94,6.05,6.08,6.11,6.14,6.2,6.22,6.25,6.28,6.31,6.34,6.37,6.4,6.43,6.46,6.49,6.52,6.55,6.58,6.61,6.65,6.68,6.71,6.75,6.78,7.05,7.07],
[6.5,5.24,5.48,5.55,5.58,5.78,5.88,5.92,5.95,5.98,6,6.03,6.06,6.09,6.12,6.15,6.18,6.21,6.24,6.27,6.3,6.33,6.36,6.39,6.42,6.45,6.48,6.51,6.55,6.63,6.66,6.69,6.87,7.6],
[6.4,5.11,5.48,5.53,5.58,5.62,5.72,5.76,5.82,5.84,5.87,5.9,5.93,5.96,5.99,6.02,6.05,6.08,6.11,6.14,6.17,6.2,6.23,6.26,6.29,6.32,6.35,6.38,6.41,6.45,6.6,6.63,6.66,6.75,6.9],
[6.3,5.18,5.24,5.27,5.3,5.45,5.5,5.55,5.58,5.62,5.68,5.71,5.74,5.77,5.8,5.83,5.88,5.91,5.94,5.97,6,6.03,6.06,6.09,6.12,6.15,6.18,6.21,6.24,6.27,6.3,6.33,6.36,6.39,6.42,6.45,6.52],
[6.2,5.16,5.36,5.39,5.42,5.5,5.53,5.56,5.59,5.62,5.65,5.68,5.71,5.74,5.77,5.8,5.83,5.86,5.89,5.92,5.95,5.98,6.01,6.04,6.07,6.1,6.13,6.22,6.25,6.28,6.33,6.38,6.41,6.43,6.45],
[6.1,5.11,5.26,5.4,5.45,5.47,5.55,5.58,5.61,5.64,5.67,5.7,5.73,5.76,5.79,5.82,5.85,5.88,5.91,5.94,5.97,6,6.03,6.08,6.12,6.16,6.2,6.24,6.27],
[6,5.09,5.12,5.14,5.21,5.24,5.27,5.3,5.34,5.37,5.4,5.44,5.48,5.51,5.54,5.57,5.6,5.63,5.66,5.69,5.72,5.75,5.78,5.81,5.84,5.87,5.9,5.93,5.96,5.99,6.02,6.05,6.1,6.13,6.16,6.2,6.23,6.32,6.35,6.42,7.03],
[5.9,5.17,5.3,5.35,5.38,5.41,5.44,5.47,5.52,5.56,5.59,5.62,5.65,5.68,5.71,5.75,5.78,5.82,5.85,5.88,5.92,6,6.11,6.13],
[5.8,5.14,5.32,5.35,5.39,5.42,5.45,5.48,5.51,5.54,5.57,5.6,5.63,5.66,5.68,5.78,5.82,5.92],
[5.7,5.16,5.24,5.52,5.7,5.8,5.87,6.19],[5.6,5.24,5.25,5.36,5.53,5.57,5.6,5.63,5.66],
[5.5,5.12,5.15,5.17,5.29,5.33,5.41,5.44,5.46,5.48,5.63,5.67,5.69],[5.4,5.49]
];

// axis values
const decadeTicks = [1900,1910,1920,1930,1940,1950,1960,1970,1980];
const countTicks = [1,2,5,10,20,50,100,200,500];
const countMinorTicks = [3,4,6,7,8,9,30,40,60,70,80,90,300,400];
const magTicks = [4.5,5,5.5,6,6.5,7,7.5,8,8.5,9];
const compareGridTicks = [5,5.5,6,6.5,7,7.5,8,8.5,9];
const diagonal = [5,9];

const colors = { abe: '#f97c6d', gr: '#8c6bd8', bd: '#00b2ee', rothe: '#6b8e23' };
const sansFont = 'Liberation Sans';
const stage = document.getElementById('stage');

function range(from, to, step) {
    const out = [];
    for (let i = 0; from + i * step <= to + 1e-9; i++) out.push(+(from + i * step).toFixed(2));
    return out;
}

function rowsToPoints(rows, xBase) {
    return rows.flatMap(([y, ...xs]) => xs.map(x => ({ x: x + xBase, y })));
}

// draws the frame and the small tick marks around the plot
const frameTicks = {
    id: 'frameTicks',
    afterDatasetsDraw(chart, args, opts) {
        const { ctx, chartArea: a, scales: { x, y } } = chart;
        ctx.save();
        ctx.strokeStyle = opts.color;
        const mark = (x1, y1, x2, y2) => { ctx.beginPath(); ctx.moveTo(x1, y1); ctx.lineTo(x2, y2); ctx.stroke(); };
        ctx.lineWidth = opts.tickWidth;
        const drawX = (vals, len) => vals.forEach(v => {
            const px = x.getPixelForValue(v);
            if (opts.top) mark(px, a.top, px, a.top - len);
            if (opts.bottom) mark(px, a.bottom, px, a.bottom + len);
        });
        const drawY = (vals, len) => vals.forEach(v => {
            const py = y.getPixelForValue(v);
            mark(a.left, py, a.left - len, py);
            mark(a.right, py, a.right + len, py);
        });
        drawX(opts.xMinor, opts.minorLen);
        drawX(opts.xMajor, opts.majorLen);
        drawY(opts.yMinor, opts.minorLen);
        drawY(opts.yMajor, opts.majorLen);
        ctx.lineWidth = opts.frameWidth;
        ctx.strokeRect(a.left, a.top, a.right - a.left, a.bottom - a.top);
        ctx.restore();
    }
};

// one canvas per plot, sized so the chart area lands on the given rectangle
function addChart(rect, margin, config) {
    const canvas = document.createElement('canvas');
    const width = rect.right - rect.left + margin.left + margin.right;
    const height = rect.bottom - rect.top + margin.top + margin.bottom;
    canvas.width = width;
    canvas.height = height;
    canvas.style.left = (rect.left - margin.left) + 'px';
    canvas.style.top = (rect.top - margin.top) + 'px';
    canvas.style.width = width + 'px';
    canvas.style.height = height + 'px';
    stage.appendChild(canvas);
    config.options.responsive = false;
    config.options.animation = false;
    config.options.devicePixelRatio = 1;
    config.options.layout = { padding: { top: margin.top, right: margin.right, left: 0, bottom: 0 } };
    config.options.plugins.legend = { display: false };
    config.options.plugins.tooltip = { enabled: false };
    // fixed box sizes and no label padding, otherwise the layout moves the chart area
    config.options.scales.x.afterFit = s => { s.height = margin.bottom; s.paddingLeft = 0; s.paddingRight = 0; };
    config.options.scales.y.afterFit = s => { s.width = margin.left; s.paddingTop = 0; s.paddingBottom = 0; };
    config.plugins = [frameTicks];
    return new Chart(canvas, config);
}

function addCountPanel(rect, titleX, color, firstYear, counts, yMin) {
    addChart(rect, { left: rect.left - titleX + 8, right: 30, top: 12, bottom: 4 }, {
        type: 'bar',
        data: { datasets: [{
            data: counts.map((v, i) => ({ x: firstYear + i + 0.5, y: v })),
            backgroundColor: color, borderColor: 'rgba(45,45,45,0.8)', borderWidth: 1,
            categoryPercentage: 1, barPercentage: 1
        }] },
        options: {
            plugins: { frameTicks: { color: '#8a8a8a', frameWidth: 1.2, tickWidth: 1, top: true, bottom: false,
                xMajor: decadeTicks, xMinor: range(1900, 1980, 2), yMajor: countTicks, yMinor: countMinorTicks, majorLen: 5, minorLen: 2.5 } },
            scales: {
                x: { type: 'linear', offset: false, min: 1900, max: 1981, display: true, grid: { display: false, offset: false, drawTicks: false }, border: { display: false }, ticks: { display: false } },
                y: { type: 'logarithmic', min: yMin, max: 557, grid: { display: false, drawTicks: false }, border: { display: false },
                    afterBuildTicks: s => { s.ticks = countTicks.map(v => ({ value: v })); },
                    ticks: { autoSkip: false, padding: 7, color: '#333', font: { family: sansFont, size: 13, weight: 'bold' }, callback: v => String(v) },
                    title: { display: true, text: '# earthquakes per year', padding: 0, color: '#333', font: { family: sansFont, size: 13, weight: 'bold' } } }
            }
        }
    });
}

function addMagPanel(rect, titleX, title, rows, yMax, point) {
    addChart(rect, { left: rect.left - titleX + 8, right: 30, top: 4, bottom: 24 }, {
        type: 'scatter',
        data: { datasets: [Object.assign({ data: rowsToPoints(rows, 1900), clip: false }, point)] },
        options: {
            plugins: { frameTicks: { color: '#8a8a8a', frameWidth: 1.2, tickWidth: 1, top: false, bottom: true,
                xMajor: decadeTicks, xMinor: range(1900, 1980, 2), yMajor: magTicks, yMinor: range(4.5, 9, 0.1), majorLen: 5, minorLen: 2.5 } },
            scales: {
                x: { type: 'linear', min: 1900, max: 1981, grid: { display: false, drawTicks: false }, border: { display: false },
                    afterBuildTicks: s => { s.ticks = decadeTicks.map(v => ({ value: v })); },
                    ticks: { autoSkip: false, maxRotation: 0, padding: 5, labelOffset: 3, color: '#333', font: { family: sansFont, size: 13, weight: 'bold' }, callback: v => String(v) } },
                y: { type: 'linear', min: 4.5, max: yMax, grid: { color: '#dedede', lineWidth: 1.2, drawTicks: false }, border: { display: false },
                    afterBuildTicks: s => { s.ticks = magTicks.map(v => ({ value: v })); },
                    ticks: { autoSkip: false, padding: 7, color: '#333', font: { family: sansFont, size: 13, weight: 'bold' }, callback: v => v.toFixed(1) },
                    title: { display: true, text: title, padding: 0, color: '#333', font: { family: sansFont, size: 13, weight: 'bold' } } }
            }
        }
    });
}

function addComparePanel(rect, titleX, title, rows, pointColor) {
    addChart(rect, { left: rect.left - titleX + 14, right: 30, top: 14, bottom: 65 }, {
        type: 'scatter',
        data: { datasets: [
            { data: rowsToPoints(rows, 0), pointRadius: 2.8, pointBorderWidth: 1.3, pointBorderColor: pointColor, pointBackgroundColor: 'transparent', order: 1 },
            { data: diagonal.map(v => ({ x: v, y: v })), showLine: true, pointRadius: 0, borderColor: '#a8a8a8', borderWidth: 1, borderDash: [4, 2], order: 2 }
        ] },
        options: {
            plugins: { frameTicks: { color: '#222', frameWidth: 2.4, tickWidth: 1.2, top: true, bottom: true,
                xMajor: range(5, 9, 1), xMinor: range(5, 9, 0.1), yMajor: range(5, 9, 1), yMinor: range(5, 9, 0.1), majorLen: 9, minorLen: 4 } },
            scales: {
                x: { type: 'linear', min: 5, max: 9, grid: { color: '#e6e6e6', drawTicks: false }, border: { display: false },
                    afterBuildTicks: s => { s.ticks = compareGridTicks.map(v => ({ value: v })); },
                    ticks: { autoSkip: false, maxRotation: 0, padding: 11, color: '#222', font: { family: sansFont, size: 23, weight: 'bold' }, callback: v => Number.isInteger(v) ? String(v) : '' },
                    title: { display: true, text: 'MS(ISC\u2212GEM)', padding: 0, color: '#222', font: { family: sansFont, size: 23, weight: 'bold' } } },
                y: { type: 'linear', min: 5, max: 9, grid: { color: '#e6e6e6', drawTicks: false }, border: { display: false },
                    afterBuildTicks: s => { s.ticks = compareGridTicks.map(v => ({ value: v })); },
                    ticks: { autoSkip: false, padding: 15, color: '#222', font: { family: sansFont, size: 23, weight: 'bold' }, callback: v => Number.isInteger(v) ? String(v) : '' },
                    title: { display: true, text: title, padding: 0, color: '#222', font: { family: sansFont, size: 23, weight: 'bold' } } }
            }
        }
    });
}

function addTag(text, color, left, top, width, height, size, weight) {
    const el = document.createElement('div');
    el.className = 'tag';
    el.textContent = text;
    el.style.cssText = `left:${left}px;top:${top}px;width:${width}px;height:${height}px;color:${color};font-size:${size}px;font-weight:${weight};z-index:3`;
    stage.appendChild(el);
}

function addBigLabel(text, color, left, top) {
    const el = document.createElement('div');
    el.className = 'big';
    el.textContent = text;
    el.style.cssText = `left:${left}px;top:${top}px;color:${color}`;
    stage.appendChild(el);
}

const softPoint = (color, radius) => ({ pointRadius: radius, pointBorderWidth: 0, pointBackgroundColor: color });

addCountPanel({ left: 107, right: 595, top: 40, bottom: 257 }, 68, colors.abe, abeFirstYear, abeCounts, 0.88);
addMagPanel({ left: 107, right: 595, top: 257, bottom: 473 }, 71, 'Magnitude [MS ABE]', abeTimeRows, 9.39, softPoint('rgba(249,124,109,0.68)', 2.5));
addCountPanel({ left: 684, right: 1171, top: 39, bottom: 256 }, 645, colors.gr, grFirstYear, grCounts, 0.88);
addMagPanel({ left: 684, right: 1171, top: 256, bottom: 473 }, 648, 'Magnitude [Unknown type G&R]', grTimeRows, 9.21, softPoint('rgba(140,107,216,0.85)', 2.4));
addCountPanel({ left: 107, right: 595, top: 531, bottom: 747 }, 68, colors.bd, bdFirstYear, bdCounts, 0.915);
addMagPanel({ left: 107, right: 595, top: 747, bottom: 964 }, 71, 'Magnitude [Unknown type B&D]', bdTimeRows, 9.4, softPoint('rgba(0,178,238,0.72)', 2.4));
addCountPanel({ left: 684, right: 1171, top: 531, bottom: 747 }, 645, colors.rothe, rotheFirstYear, rotheCounts, 0.915);
addMagPanel({ left: 684, right: 1171, top: 747, bottom: 964 }, 648, 'Magnitude [MS ROTHE]', rotheTimeRows, 9.4,
    { pointRadius: 2, pointBorderWidth: 0.9, pointBorderColor: 'rgba(107,142,35,0.85)', pointBackgroundColor: 'rgba(107,142,35,0.25)' });

addComparePanel({ left: 1620, right: 2100, top: 44, bottom: 429 }, 1572, 'MS(ABE)', abeCompareRows, colors.abe);
addComparePanel({ left: 2196, right: 2672, top: 47, bottom: 427 }, 2150, 'Unknown type(G&R)', grCompareRows, 'rgba(140,107,216,0.45)');
addComparePanel({ left: 1625, right: 2101, top: 538, bottom: 919 }, 1576, 'Unknown type(B&D)', bdCompareRows, colors.bd);
addComparePanel({ left: 2191, right: 2672, top: 536, bottom: 921 }, 2145, 'MS(ROTHE)', rotheCompareRows, colors.rothe);

addTag('NTOT = 1097', colors.abe, 116, 47, 110, 19, 17, 'bold');
addTag('NTOT = 4156', colors.gr, 693, 47, 110, 19, 17, 'bold');
addTag('NTOT = 1389', colors.bd, 116, 539, 110, 19, 17, 'bold');
addTag('NTOT = 5026', colors.rothe, 693, 539, 110, 19, 17, 'bold');
addTag('N=819', colors.abe, 1634, 62, 78, 26, 23, 'bold');
addTag('N=1008', colors.gr, 2210, 64, 91, 25, 23, 'bold');
addTag('N=887', colors.bd, 1639, 556, 77, 25, 23, 'bold');
addTag('N=1146', colors.rothe, 2205, 554, 91, 25, 23, 'bold');

addBigLabel('ABE', colors.abe, 279, 53);
addBigLabel('G&R', colors.gr, 1019, 62);
addBigLabel('B&D', colors.bd, 275, 558);
addBigLabel('ROTHE', colors.rothe, 696, 573);
</script>
</body>
</html>
